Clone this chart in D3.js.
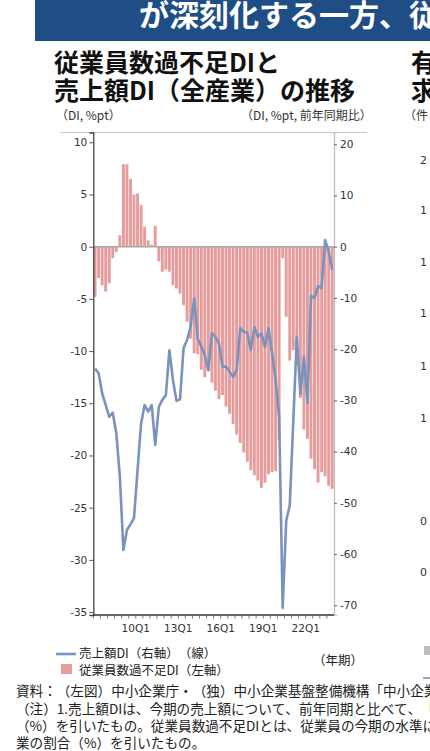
<!DOCTYPE html>
<html><head><meta charset="utf-8">
<script src="https://cdn.jsdelivr.net/npm/d3@7"></script>
<style>body{margin:0;background:#fff;overflow:hidden;} svg{display:block;} svg text{text-spacing-trim:space-all;font-kerning:none;}</style>
</head><body>
<svg id="c" width="430" height="751"></svg>
<script>
const quarters = [
"07Q1","07Q2","07Q3","07Q4","08Q1","08Q2","08Q3","08Q4",
"09Q1","09Q2","09Q3","09Q4","10Q1","10Q2","10Q3","10Q4",
"11Q1","11Q2","11Q3","11Q4","12Q1","12Q2","12Q3","12Q4",
"13Q1","13Q2","13Q3","13Q4","14Q1","14Q2","14Q3","14Q4",
"15Q1","15Q2","15Q3","15Q4","16Q1","16Q2","16Q3","16Q4",
"17Q1","17Q2","17Q3","17Q4","18Q1","18Q2","18Q3","18Q4",
"19Q1","19Q2","19Q3","19Q4","20Q1","20Q2","20Q3","20Q4",
"21Q1","21Q2","21Q3","21Q4","22Q1","22Q2","22Q3","22Q4",
"23Q1","23Q2","23Q3","23Q4"];
const tickLabels = ["10Q1","13Q1","16Q1","19Q1","22Q1"];

// 従業員数過不足DI（左軸）
const employeeDI = [
-4.8,-3.0,-3.7,-4.3,-3.5,-1.1,-0.5,1.1,
7.9,7.9,6.5,5.0,5.1,4.0,1.9,0.6,
0.2,2.0,-1.4,-2.4,-2.2,-2.4,-3.7,-4.0,
-4.5,-5.6,-7.2,-8.8,-10.2,-10.3,-11.8,-12.5,
-11.9,-13.0,-13.8,-14.6,-14.2,-15.3,-16.0,-17.0,
-18.0,-18.8,-19.7,-20.6,-21.4,-21.9,-22.4,-23.1,
-22.6,-21.8,-21.6,-21.5,-18.5,-1.1,-6.7,-10.9,
-9.9,-11.3,-14.5,-17.5,-18.4,-20.3,-21.3,-22.6,
-21.6,-22.0,-22.9,-23.2];

// 売上額DI（右軸）
const salesDI = [
-23.8,-24.7,-28.6,-30.9,-33.2,-32.4,-36.4,-44.9,
-59.2,-55.3,-54.2,-53.0,-43.6,-34.5,-30.9,-32.2,
-30.9,-38.7,-31.3,-29.9,-29.0,-20.2,-26.0,-30.1,
-29.8,-19.8,-18.2,-15.6,-10.1,-17.9,-19.5,-21.2,
-24.1,-16.9,-17.6,-18.9,-23.4,-23.4,-24.4,-25.4,
-24.1,-15.9,-16.6,-16.8,-20.2,-15.7,-17.6,-16.9,
-19.6,-15.9,-20.8,-26.0,-33.2,-70.5,-53.5,-50.5,
-34.0,-17.6,-28.8,-21.5,-30.5,-9.6,-10.0,-7.7,
-8.1,1.3,-1.0,-4.5];

const leftTicks = [10,5,0,-5,-10,-15,-20,-25,-30,-35];
const rightTicks = [20,10,0,-10,-20,-30,-40,-50,-60,-70];

const barColor = "#e79b9b";
const lineColor = "#7893bd";
const jp = "'Noto Sans CJK JP','Noto Sans',sans-serif";
const num = "'DejaVu Sans',Verdana,sans-serif";

const svg = d3.select("#c");

// banner
svg.append("rect").attr("x",35).attr("y",0).attr("width",395).attr("height",41).attr("fill","#1f4e86");
svg.append("text").attr("x",139).attr("y",26).attr("fill","#fff")
  .style("font-family",jp).style("font-weight",700).style("font-size","30px")
  .text("が深刻化する一方、従");

// title
const title = svg.append("g").style("font-family",jp).style("font-weight",700).style("font-size","25px").attr("fill","#111");
title.append("text").attr("x",54).attr("y",71.5).text("従業員数過不足DIと");
title.append("text").attr("x",54).attr("y",100).text("売上額DI（全産業）の推移");
// neighbouring chart (clipped at the page edge)
title.append("text").attr("x",411).attr("y",71.5).text("有");
title.append("text").attr("x",411).attr("y",100).text("求");

// unit labels
const units = svg.append("g").style("font-family",jp).style("font-size","12px").attr("fill","#333");
units.append("text").attr("x",56).attr("y",120).text("（DI, %pt）");
units.append("text").attr("x",241).attr("y",120).text("（DI, %pt, 前年同期比）");
units.append("text").attr("x",404).attr("y",120).text("（件");

// scales
const x = d3.scaleBand().domain(quarters).range([93.3, 334]).paddingInner(0.18).paddingOuter(0.09);
const xb = d3.scaleBand().domain(quarters).range([93.3, 334]);
const yL = d3.scaleLinear().domain([-35.28, 10.94]).range([615, 132.5]);
const yR = d3.scaleLinear().domain([-71.9, 22.3]).range([615, 132.5]);

// top border
svg.append("line").attr("x1",60).attr("x2",367).attr("y1",132.5).attr("y2",132.5).attr("stroke","#c8c8c8").attr("stroke-width",1);

// bars
svg.append("g").selectAll("rect").data(employeeDI).join("rect")
  .attr("x",(d,i)=>x(quarters[i]))
  .attr("width",x.bandwidth())
  .attr("y",d=>Math.min(yL(0),yL(d)))
  .attr("height",d=>Math.abs(yL(d)-yL(0)))
  .attr("fill",barColor);

// zero line
svg.append("line").attr("x1",93.3).attr("x2",334).attr("y1",yL(0)).attr("y2",yL(0)).attr("stroke","#a8a8a8").attr("stroke-width",1.6);

// right axis
const gR = svg.append("g").attr("transform","translate(334,0)")
  .call(d3.axisRight(yR).tickValues(rightTicks).tickSize(3).tickPadding(3).tickFormat(d=>String(d)));
gR.select(".domain").attr("stroke","#bdbdbd").attr("stroke-width",1.2);
gR.selectAll(".tick line").attr("stroke","#666");
gR.selectAll("text").style("font-family",num).style("font-size","10.5px").attr("fill","#333");

// left axis
const gL = svg.append("g").attr("transform","translate(93.3,0)")
  .call(d3.axisLeft(yL).tickValues(leftTicks).tickSize(4).tickPadding(2).tickFormat(d=>String(d)));
gL.select(".domain").attr("stroke","#444").attr("stroke-width",1.3);
gL.selectAll(".tick line").attr("stroke","#555");
gL.selectAll("text").style("font-family",num).style("font-size","10.5px").attr("fill","#333");

// bottom axis
const gB = svg.append("g");
gB.append("line").attr("x1",93.3).attr("x2",334).attr("y1",615).attr("y2",615).attr("stroke","#333").attr("stroke-width",1.5);
gB.selectAll("line.t").data(quarters.filter((q,i)=>i%2===0)).join("line").attr("class","t")
  .attr("x1",d=>xb(d)).attr("x2",d=>xb(d)).attr("y1",616).attr("y2",618.5)
  .attr("stroke","#777").attr("stroke-width",1);
gB.selectAll("text").data(tickLabels).join("text")
  .attr("x",d=>xb(d)).attr("y",632).attr("text-anchor","middle")
  .style("font-family",num).style("font-size","10.5px").attr("fill","#333").text(d=>d);

// sales line
const line = d3.line().x((d,i)=>xb(quarters[i])+xb.bandwidth()/2).y(d=>yR(d));
svg.append("path").datum(salesDI).attr("d",line).attr("fill","none")
  .attr("stroke",lineColor).attr("stroke-width",2.6).attr("stroke-linejoin","round");

// legend
const lg = svg.append("g").style("font-family",jp).style("font-size","12.5px").attr("fill","#222");
lg.append("line").attr("x1",56).attr("x2",76).attr("y1",654).attr("y2",654).attr("stroke",lineColor).attr("stroke-width",2.6);
lg.append("text").attr("x",79).attr("y",658).text("売上額DI（右軸）（線）");
lg.append("rect").attr("x",61).attr("y",664).attr("width",11).attr("height",10).attr("fill",barColor);
lg.append("text").attr("x",79).attr("y",675).text("従業員数過不足DI（左軸）");
lg.append("text").attr("x",313).attr("y",665).text("（年期）");

// neighbouring chart axis digits (clipped)
const nb = svg.append("g").style("font-family",num).style("font-size","11px").attr("fill","#333");
[["2",164],["1",214],["1",266],["1",317],["1",370],["1",422],["0",525],["0",576]].forEach(a=>{
  nb.append("text").attr("x",420).attr("y",a[1]).text(a[0]);
});
svg.append("rect").attr("x",424).attr("y",646).attr("width",6).attr("height",9).attr("fill","#bdbdbd");
svg.append("line").attr("x1",423).attr("x2",430).attr("y1",678).attr("y2",678).attr("stroke","#8ea6c8").attr("stroke-width",2);

// notes
const notes = [
 ["資料：（左図）中小企業庁・（独）中小企業基盤整備機構「中小企業景況調査」",696],
 ["（注）1.売上額DIは、今期の売上額について、前年同期と比べて、「増加」と答えた企業の割合（%）から、「減少」と答えた企業の割合",714],
 ["（%）を引いたもの。従業員数過不足DIとは、従業員の今期の水準について、「過剰」と答えた企業の割合（%）から、「不足」と答えた企",731],
 ["業の割合（%）を引いたもの。",748]
];
const nt = svg.append("g").style("font-family",jp).style("font-size","13.6px").attr("fill","#222");
notes.forEach(n=>nt.append("text").attr("x",16).attr("y",n[1]).text(n[0]));
</script>
</body></html>
